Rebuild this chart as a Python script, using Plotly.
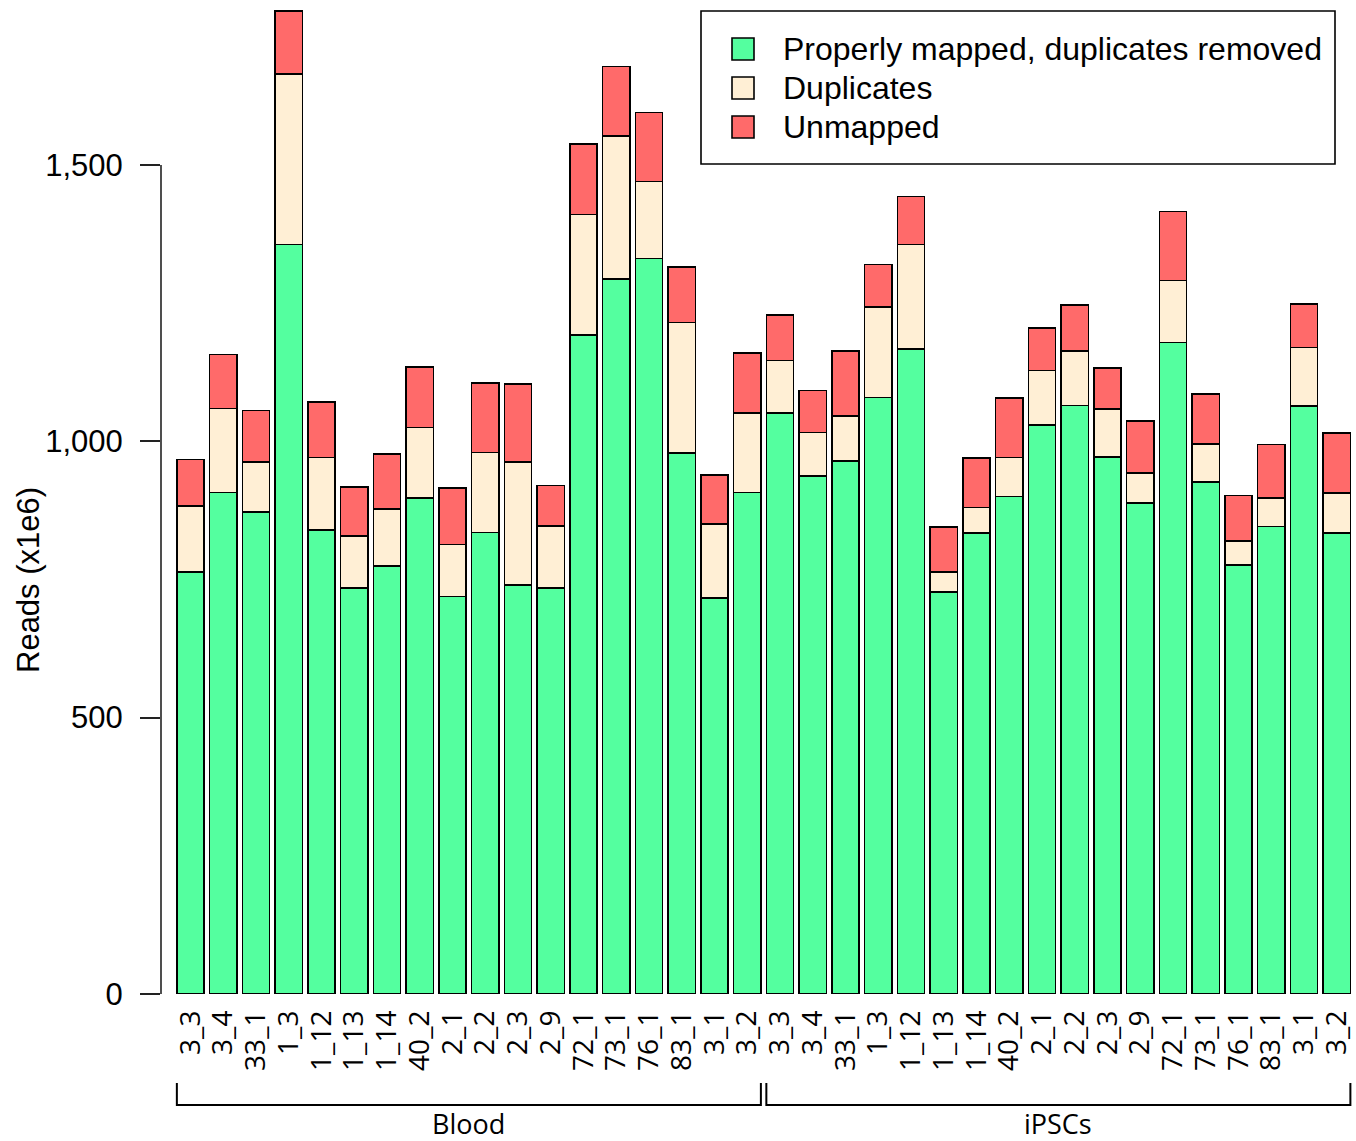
import plotly.graph_objects as go

# Sample labels (same set for each tissue group)
samples = ["3_3", "3_4", "33_1", "1_3", "1_12", "1_13", "1_14", "40_2", "2_1",
           "2_2", "2_3", "2_9", "72_1", "73_1", "76_1", "83_1", "3_1", "3_2"]
groups = ["Blood", "iPSCs"]
labels = samples + samples

# Reads in millions
proper_blood = [763, 907, 872, 1356, 840, 735, 774, 897, 719, 835, 740, 735,
                1192, 1294, 1331, 979, 717, 907]
dups_blood = [120, 152, 90, 308, 131, 94, 103, 128, 94, 145, 223, 112,
              218, 258, 139, 236, 133, 144]
unmapped_blood = [84, 98, 94, 115, 100, 88, 100, 109, 102, 126, 141, 73,
                  128, 126, 125, 100, 89, 109]

proper_ipsc = [1051, 937, 964, 1079, 1167, 727, 834, 900, 1030, 1065, 972, 888,
               1179, 926, 776, 846, 1064, 834]
dups_ipsc = [95, 79, 82, 164, 189, 36, 46, 71, 98, 98, 86, 55,
             112, 69, 44, 51, 106, 72]
unmapped_ipsc = [83, 76, 117, 77, 87, 82, 90, 107, 77, 84, 75, 94,
                 125, 91, 82, 97, 78, 109]

series_names = ["Properly mapped, duplicates removed", "Duplicates", "Unmapped"]
series_colors = ["#54FF9F", "#FFEFD5", "#FF6A6A"]
series_values = [proper_blood + proper_ipsc,
                 dups_blood + dups_ipsc,
                 unmapped_blood + unmapped_ipsc]

y_ticks = [0, 500, 1000, 1500]

W, H = 1356, 1141
ML, MR, MT, MB = 161, 0, 0, 147
PW, PH = W - ML - MR, H - MT - MB

def px_x(px):
    return (px - ML) / PW

def px_y(py):
    return (H - MB - py) / PH

xs = list(range(len(labels)))
bar_w = 1 / 1.2

fig = go.Figure()
for name, color, vals in zip(series_names, series_colors, series_values):
    fig.add_trace(go.Bar(
        x=xs, y=vals, name=name, width=bar_w,
        marker=dict(color=color, line=dict(color="black", width=1.6)),
        showlegend=False,
    ))

axis_font = dict(family="Liberation Sans, Arial, sans-serif", size=31, color="black")
legend_font = dict(family="Liberation Sans, Arial, sans-serif", size=32, color="black")
label_font = dict(family="Open Sans, sans-serif", size=28, color="black")

fig.update_layout(
    width=W, height=H,
    margin=dict(l=ML, r=MR, t=MT, b=MB, pad=0),
    barmode="stack",
    plot_bgcolor="white", paper_bgcolor="white",
    xaxis=dict(
        range=[-0.9008, 35.588],
        tickvals=xs, ticktext=labels, tickangle=-90,
        ticks="", showgrid=False, zeroline=False, showline=False,
        tickfont=label_font, ticklabelstandoff=10,
    ),
    yaxis=dict(
        range=[0, 1798.4],
        tickvals=y_ticks, ticktext=[f"{v:,}" for v in y_ticks],
        ticks="outside", ticklen=20, tickwidth=1.6, tickcolor="#222",
        showgrid=False, zeroline=False, showline=False,
        tickfont=axis_font, ticklabelstandoff=11,
    ),
)

# y axis line spanning the tick range
fig.add_shape(type="line", xref="paper", yref="y", x0=0, x1=0,
              y0=y_ticks[0], y1=y_ticks[-1], line=dict(color="#222", width=1.6))

# y axis title
fig.add_annotation(text="Reads (x1e6)", xref="paper", yref="paper",
                   x=px_x(28), y=px_y(580), textangle=-90, showarrow=False,
                   xanchor="center", yanchor="middle", font=axis_font)

# group brackets under the sample labels
n = len(samples)
half = bar_w / 2
for gi, g in enumerate(groups):
    x0 = gi * n - half
    x1 = gi * n + n - 1 + half
    yt, yb = px_y(1083), px_y(1105)
    fig.add_shape(type="path", xref="x", yref="paper",
                  path=f"M {x0},{yt} L {x0},{yb} L {x1},{yb} L {x1},{yt}",
                  line=dict(color="black", width=2))
    fig.add_annotation(text=g, xref="x", yref="paper", x=(x0 + x1) / 2,
                       y=px_y(1123), showarrow=False, xanchor="center",
                       yanchor="middle", font=dict(family="Open Sans, sans-serif",
                                                   size=27, color="black"))

# legend box
fig.add_shape(type="rect", xref="paper", yref="paper",
              x0=px_x(701), x1=px_x(1335), y0=px_y(164), y1=px_y(11),
              line=dict(color="black", width=1.6), fillcolor="white")
for i, (name, color) in enumerate(zip(series_names, series_colors)):
    cy = 49 + 39 * i
    fig.add_shape(type="rect", xref="paper", yref="paper",
                  x0=px_x(732), x1=px_x(754), y0=px_y(cy + 11), y1=px_y(cy - 11),
                  line=dict(color="black", width=1.6), fillcolor=color)
    fig.add_annotation(text=name, xref="paper", yref="paper",
                       x=px_x(781), y=px_y(cy), showarrow=False,
                       xanchor="left", yanchor="middle", font=legend_font)

fig.write_html("out.html")
